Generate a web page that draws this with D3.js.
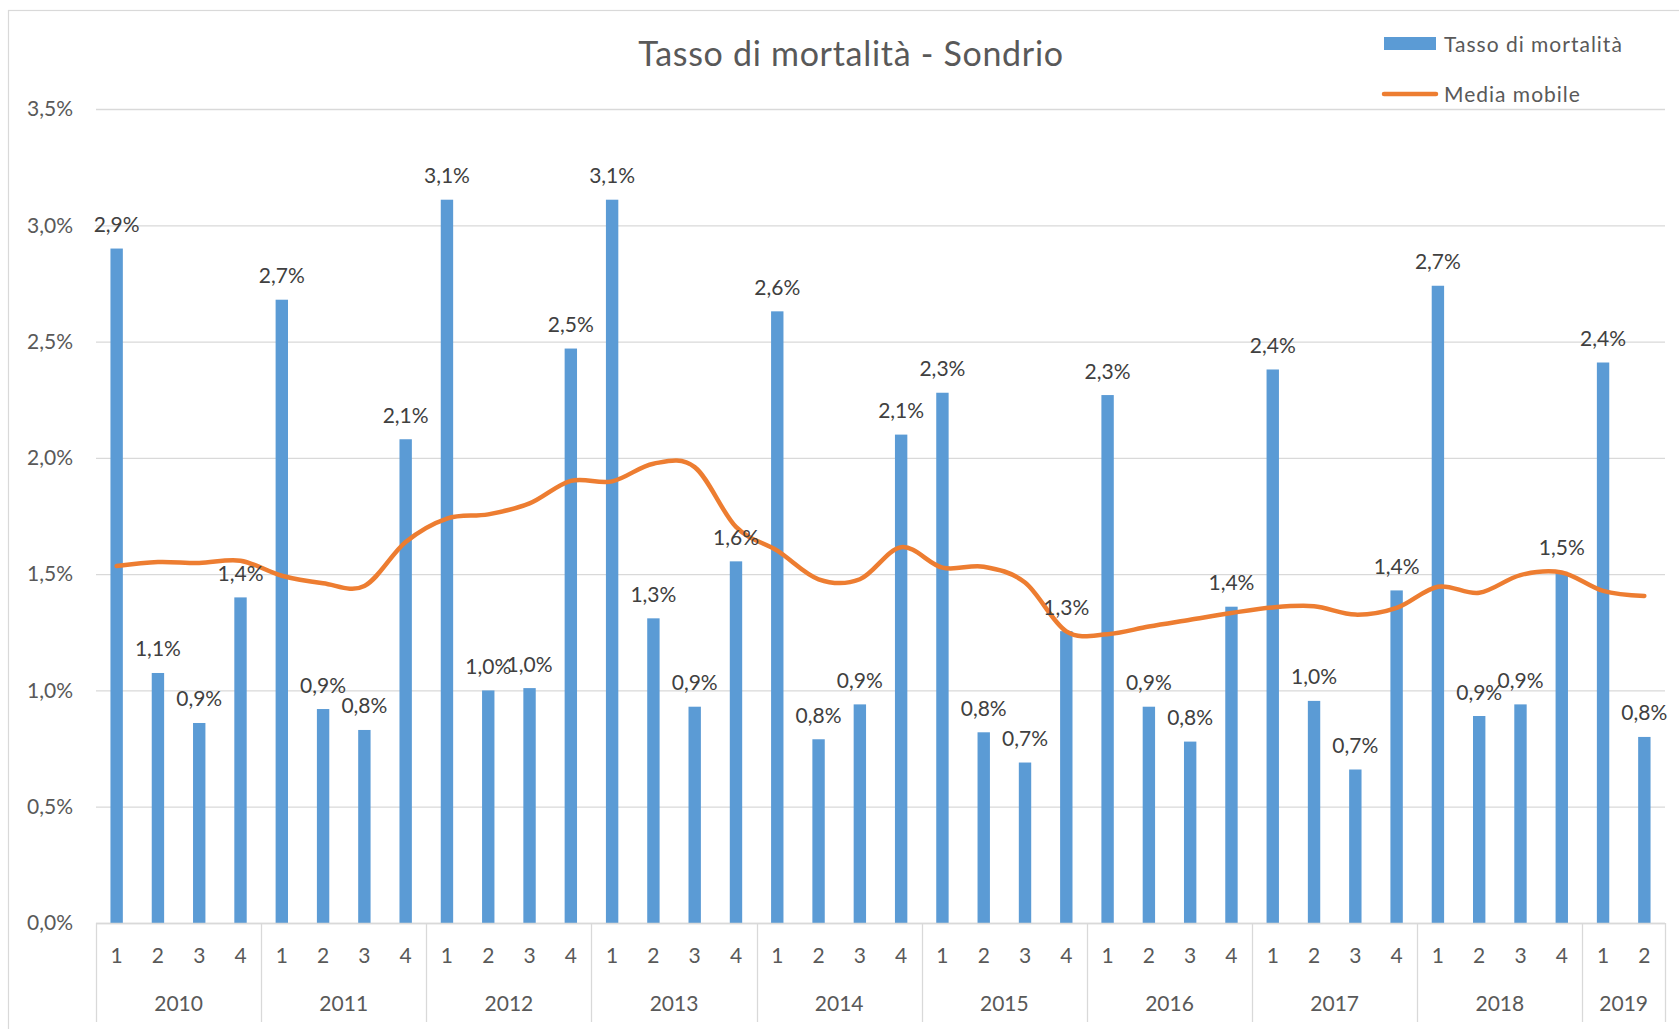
<!DOCTYPE html>
<html>
<head>
<meta charset="utf-8">
<script src="https://cdn.jsdelivr.net/npm/d3@7"></script>
<style>
  html, body { margin: 0; padding: 0; background: #fff; }
  svg { display: block; font-family: Lato, "Open Sans", sans-serif; }
</style>
</head>
<body>
<svg id="chart" width="1679" height="1029"></svg>
<script>
// ---- data ----
const years = ["2010","2011","2012","2013","2014","2015","2016","2017","2018","2019"];
const quartersPerYear = [4,4,4,4,4,4,4,4,4,2];
const quarterLabels = ["1","2","3","4"];
const rates = [
  2.90, 1.075, 0.86, 1.40,
  2.68, 0.92, 0.83, 2.08,
  3.11, 1.00, 1.01, 2.47,
  3.11, 1.31, 0.93, 1.555,
  2.63, 0.79, 0.94, 2.10,
  2.28, 0.82, 0.69, 1.255,
  2.27, 0.93, 0.78, 1.36,
  2.38, 0.955, 0.66, 1.43,
  2.74, 0.89, 0.94, 1.51,
  2.41, 0.80
];
const movingAvg = [
  1.535, 1.552, 1.548, 1.558,
  1.493, 1.461, 1.449, 1.638,
  1.739, 1.757, 1.804, 1.901,
  1.899, 1.975, 1.960, 1.703,
  1.601, 1.478, 1.478, 1.616,
  1.528, 1.532, 1.464, 1.254,
  1.242, 1.275, 1.304, 1.333,
  1.357, 1.362, 1.326, 1.355,
  1.446, 1.420, 1.496, 1.507,
  1.428, 1.406
];
const yTicks = [0, 0.5, 1.0, 1.5, 2.0, 2.5, 3.0, 3.5];
const titleText = "Tasso di mortalità - Sondrio";
const seriesNames = ["Tasso di mortalità", "Media mobile"];

// ---- build categories ----
const cats = [];
years.forEach((y, yi) => {
  for (let q = 0; q < quartersPerYear[yi]; q++) cats.push({ year: y, q: quarterLabels[q], key: y + "-" + quarterLabels[q] });
});
cats.forEach((c, i) => { c.rate = rates[i]; c.ma = movingAvg[i]; });

// ---- layout ----
const W = 1679, H = 1029;
const plot = { left: 96, right: 1665, top: 109, bottom: 923 };
const blue = "#5B9BD5", orange = "#ED7D31", grid = "#D9D9D9", txt = "#595959";

const loc = d3.formatLocale({ decimal: ",", thousands: ".", grouping: [3], currency: ["", "€"] });
const fmt1 = loc.format(".1f");

const svg = d3.select("#chart");
svg.append("rect").attr("width", W).attr("height", H).attr("fill", "#fff");
// chart area border
svg.append("rect").attr("x", 8.5).attr("y", 10.5).attr("width", W + 50).attr("height", H + 50)
  .attr("fill", "none").attr("stroke", grid).attr("stroke-width", 1.2);

const x = d3.scaleBand().domain(cats.map(c => c.key)).range([plot.left, plot.right])
  .paddingInner(0.7).paddingOuter(0.35);
const y = d3.scaleLinear().domain([0, 3.5]).range([plot.bottom, plot.top]);

// gridlines
const gAxisY = svg.append("g").attr("transform", `translate(${plot.left},0)`)
  .call(d3.axisLeft(y).tickValues(yTicks).tickSize(-(plot.right - plot.left)).tickFormat(""));
gAxisY.select(".domain").remove();
gAxisY.selectAll(".tick line").attr("stroke", grid).attr("stroke-width", 1.3);

// y labels
const gYLab = svg.append("g").attr("transform", `translate(73,0)`)
  .call(d3.axisLeft(y).tickValues(yTicks).tickSize(0).tickPadding(0).tickFormat(d => fmt1(d) + "%"));
gYLab.select(".domain").remove();
gYLab.selectAll("text").attr("fill", txt).style("font-size", "21px").style("font-family", "Lato, sans-serif");

// bars
svg.append("g").selectAll("rect").data(cats).join("rect")
  .attr("x", d => x(d.key)).attr("width", x.bandwidth())
  .attr("y", d => y(d.rate)).attr("height", d => y(0) - y(d.rate))
  .attr("fill", blue);

// category axis
const axisG = svg.append("g");
axisG.append("line").attr("x1", plot.left).attr("x2", plot.right)
  .attr("y1", plot.bottom + 0.5).attr("y2", plot.bottom + 0.5).attr("stroke", grid).attr("stroke-width", 1.3);
axisG.selectAll("text.q").data(cats).join("text").attr("class", "q")
  .attr("x", d => x(d.key) + x.bandwidth() / 2).attr("y", 954)
  .attr("text-anchor", "middle").attr("dominant-baseline", "central")
  .attr("fill", txt).style("font-size", "21px").text(d => d.q);
// year groups
const step = x.step();
let idx = 0;
const groups = years.map((yr, yi) => {
  const first = cats[idx].key, last = cats[idx + quartersPerYear[yi] - 1].key;
  idx += quartersPerYear[yi];
  const x0 = x(first) - step * x.paddingInner() / 2;
  const x1 = x(last) + x.bandwidth() + step * x.paddingInner() / 2;
  return { yr, x0, x1 };
});
const seps = [groups[0].x0].concat(groups.map(g => g.x1));
axisG.selectAll("line.sep").data(seps).join("line").attr("class", "sep")
  .attr("x1", d => Math.round(d) + 0.5).attr("x2", d => Math.round(d) + 0.5)
  .attr("y1", plot.bottom).attr("y2", 1022).attr("stroke", grid).attr("stroke-width", 1.3);
axisG.selectAll("text.yr").data(groups).join("text").attr("class", "yr")
  .attr("x", d => (d.x0 + d.x1) / 2).attr("y", 1002)
  .attr("text-anchor", "middle").attr("dominant-baseline", "central")
  .attr("fill", txt).style("font-size", "21px").text(d => d.yr);

// moving average line
const line = d3.line().x(d => x(d.key) + x.bandwidth() / 2).y(d => y(d.ma)).curve(d3.curveCardinal.tension(0));
svg.append("path").datum(cats).attr("d", line).attr("fill", "none")
  .attr("stroke", orange).attr("stroke-width", 4.5).attr("stroke-linecap", "round").attr("stroke-linejoin", "round");

// data labels
svg.append("g").selectAll("text").data(cats).join("text")
  .attr("x", d => x(d.key) + x.bandwidth() / 2).attr("y", d => y(d.rate) - 25)
  .attr("text-anchor", "middle").attr("dominant-baseline", "central")
  .attr("fill", "#404040").style("font-size", "21px").text(d => fmt1(d.rate) + "%");

// title
svg.append("text").attr("x", 851).attr("y", 52).attr("text-anchor", "middle").attr("dominant-baseline", "central")
  .attr("fill", txt).style("font-size", "34px").style("letter-spacing", "0.7px").text(titleText);

// legend
const lg = svg.append("g");
lg.append("rect").attr("x", 1384).attr("y", 37).attr("width", 52).attr("height", 13).attr("fill", blue);
lg.append("line").attr("x1", 1384).attr("x2", 1436).attr("y1", 94).attr("y2", 94)
  .attr("stroke", orange).attr("stroke-width", 4.5).attr("stroke-linecap", "round");
lg.selectAll("text").data(seriesNames).join("text")
  .attr("x", 1444).attr("y", (d, i) => i === 0 ? 43 : 93).attr("dominant-baseline", "central")
  .attr("fill", txt).style("font-size", "21px").style("letter-spacing", "1px").text(d => d);
</script>
</body>
</html>
